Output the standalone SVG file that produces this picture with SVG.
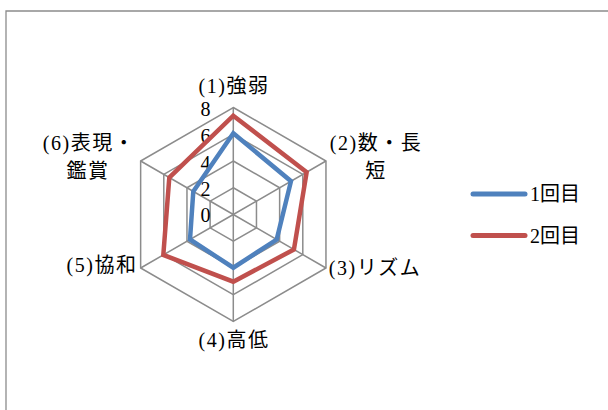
<svg xmlns="http://www.w3.org/2000/svg" width="608" height="410" viewBox="0 0 608 410">
<style>
.frame{fill:none;stroke:#8c8c8c;stroke-width:1.3}
.grid{fill:none;stroke:#8c8c8c;stroke-width:1.5}
.s1{fill:none;stroke:#4f81bd;stroke-width:4.5;stroke-linejoin:miter}
.s2{fill:none;stroke:#c0504d;stroke-width:4.5;stroke-linejoin:miter}
.lg1{stroke:#4f81bd;stroke-width:5;stroke-linecap:round}
.lg2{stroke:#c0504d;stroke-width:5;stroke-linecap:round}
text{font-family:"Liberation Serif","Noto Sans CJK JP",serif;font-size:20px;fill:#000}
.lab{text-anchor:middle;letter-spacing:1.5px}
.ax{text-anchor:end}
</style>
<rect width="608" height="410" fill="#ffffff"/>
<path class="frame" d="M6,410 V11 H608"/>
<g id="grid">
<polygon class="grid" points="233.3,107.5 325.96,161 325.96,268 233.3,321.5 140.64,268 140.64,161"/>
<polygon class="grid" points="233.3,134.25 302.8,174.375 302.8,254.625 233.3,294.75 163.8,254.625 163.8,174.375"/>
<polygon class="grid" points="233.3,161 279.63,187.75 279.63,241.25 233.3,268 186.97,241.25 186.97,187.75"/>
<polygon class="grid" points="233.3,187.75 256.47,201.125 256.47,227.875 233.3,241.25 210.13,227.875 210.13,201.125"/>
<path class="grid" d="M233.3,214.5 L233.3,107.5 M233.3,214.5 L325.96,161 M233.3,214.5 L325.96,268 M233.3,214.5 L233.3,321.5 M233.3,214.5 L140.64,268 M233.3,214.5 L140.64,161"/>
</g>
<g id="axis-values">
<text class="ax" x="210.5" y="222">0</text>
<text class="ax" x="210.5" y="196">2</text>
<text class="ax" x="210.5" y="169.5">4</text>
<text class="ax" x="210.5" y="142.5">6</text>
<text class="ax" x="210.5" y="115.5">8</text>
</g>
<g id="series">
<polygon id="series1" class="s1" points="233.3,133.3 290.98,181.2 276.69,239.55 233.3,267.7 190,239.5 193.29,191.4"/>
<polygon id="series2" class="s2" points="233.3,115.7 306.65,172.15 293.92,249.5 233.3,281.7 163.33,254.9 169.3,177.55"/>
</g>
<g id="labels">
<text class="lab" x="234" y="92.5">(1)強弱</text>
<text class="lab" x="376" y="150">(2)数・長</text>
<text class="lab" x="376" y="178">短</text>
<text class="lab" x="375" y="275">(3)リズム</text>
<text class="lab" x="234" y="347">(4)高低</text>
<text class="lab" x="102" y="272">(5)協和</text>
<text class="lab" x="89" y="149.5">(6)表現・</text>
<text class="lab" x="88" y="178">鑑賞</text>
</g>
<g id="legend">
<line class="lg1" x1="473" y1="194" x2="525" y2="194"/>
<text x="530" y="201">1回目</text>
<line class="lg2" x1="473" y1="235.5" x2="525" y2="235.5"/>
<text x="530" y="243">2回目</text>
</g>
</svg>
